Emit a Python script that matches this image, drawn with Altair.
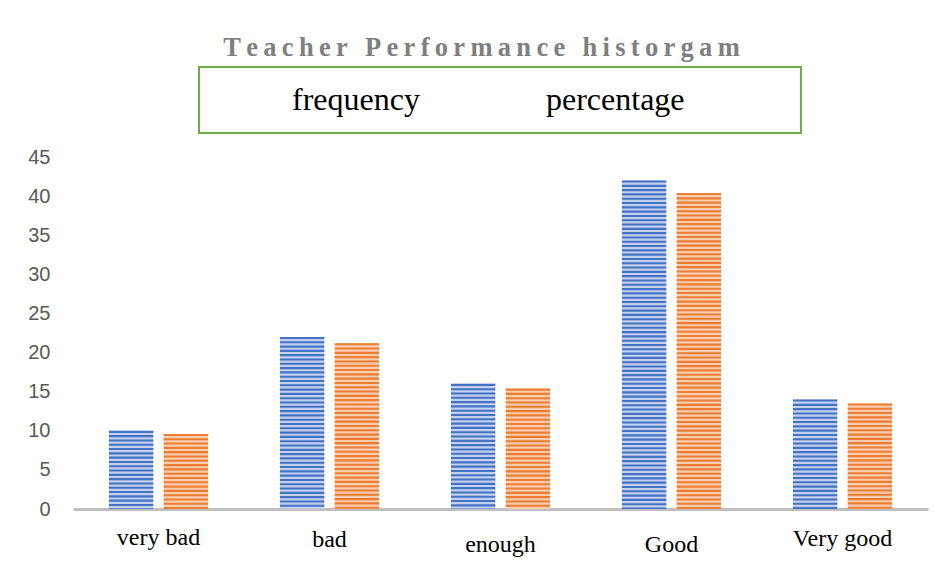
import altair as alt
import pandas as pd

# ---- data ----
categories = ["very bad", "bad", "enough", "Good", "Very good"]
series_names = ["frequency", "percentage"]
frequency = [10, 22, 16, 42, 14]
percentage = [9.6, 21.2, 15.4, 40.4, 13.5]
y_ticks = [0, 5, 10, 15, 20, 25, 30, 35, 40, 45]
title_text = "Teacher Performance historgam"

rows = []
for c, f, p in zip(categories, frequency, percentage):
    rows.append({"category": c, "series": "frequency", "value": f})
    rows.append({"category": c, "series": "percentage", "value": p})
df = pd.DataFrame(rows)

light = ["#c3d1ee", "#f8cdb0"]
dark = ["#4472c4", "#ed7d31"]

x_axis = alt.Axis(
    title=None,
    labelAngle=0,
    ticks=False,
    grid=False,
    domainColor="#bfbfbf",
    domainWidth=3,
    labelFont="Liberation Serif",
    labelFontSize=24,
    labelColor="black",
    labelPadding={
        "condition": [
            {"test": "datum.value === 'bad'", "value": 18},
            {"test": "datum.value === 'enough' || datum.value === 'Good'", "value": 23},
            {"test": "datum.value === 'Very good'", "value": 17},
        ],
        "value": 16,
    },
)
x_scale = alt.Scale(paddingInner=0.42, paddingOuter=0.21)
xo_scale = alt.Scale(paddingInner=0.19, paddingOuter=0)

y_axis = alt.Axis(
    title=None,
    values=y_ticks,
    domain=False,
    ticks=False,
    grid=False,
    labelFont="Liberation Sans",
    labelFontSize=20,
    labelColor="#595959",
    labelPadding=23,
)
y_scale = alt.Scale(domain=[0, 45], nice=False)

legend = alt.Legend(
    orient="none",
    legendX=126,
    legendY=-90,
    direction="horizontal",
    title=".",
    titleOrient="right",
    titleFontSize=10,
    titleColor="white",
    titlePadding=96,
    labelFont="Liberation Serif",
    labelFontSize=32,
    labelColor="black",
    labelOffset=44,
    columnPadding=50,
    symbolSize=1,
    symbolOpacity=0,
    padding=17,
    strokeColor="#70ad47",
)

base = alt.Chart(df).mark_bar().encode(
    x=alt.X("category:N", sort=categories, scale=x_scale, axis=x_axis),
    xOffset=alt.XOffset("series:N", sort=series_names, scale=xo_scale),
    y=alt.Y("value:Q", scale=y_scale, axis=y_axis),
    color=alt.Color("series:N", scale=alt.Scale(domain=series_names, range=light), legend=legend),
)

stripes = (
    alt.Chart(df)
    .transform_calculate(top="sequence(datum.value, 0, -0.55)")
    .transform_flatten(["top"])
    .transform_calculate(bottom="max(datum.top - 0.27, 0)")
    .mark_bar()
    .encode(
        x=alt.X("category:N", sort=categories, scale=x_scale, axis=x_axis),
        xOffset=alt.XOffset("series:N", sort=series_names, scale=xo_scale),
        y=alt.Y("top:Q", scale=y_scale, axis=y_axis),
        y2="bottom:Q",
        color=alt.Color("series:N", scale=alt.Scale(domain=series_names, range=dark), legend=None),
    )
)

spaced_title = "\u2009".join(list(title_text))

chart = (
    alt.layer(base, stripes)
    .resolve_scale(color="independent")
    .properties(
        width=855,
        height=352,
        padding={"left": 19, "top": 26, "right": 5, "bottom": 5},
        title=alt.TitleParams(
            text=spaced_title,
            font="Liberation Serif",
            fontSize=26.5,
            fontWeight="bold",
            color="#7f7f7f",
            anchor="middle",
            dx=-19,
            offset=5,
        ),
    )
    .configure_view(stroke=None)
    .configure_legend(strokeWidth=2)
)

chart.save("out.html", embed_options={"renderer": "svg", "actions": False})
